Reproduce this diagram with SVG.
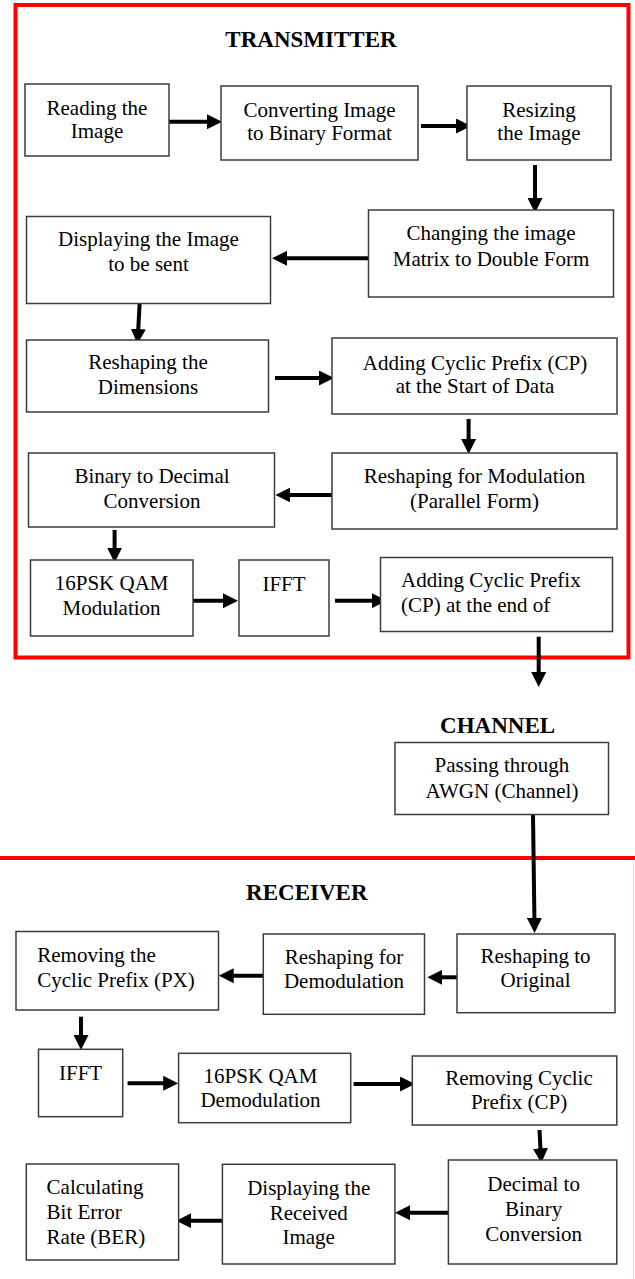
<svg xmlns="http://www.w3.org/2000/svg" width="635" height="1279" viewBox="0 0 635 1279">
<style>
.box{fill:#fff;stroke:#3c3c3c;stroke-width:1.5}
.t{font-family:"Liberation Serif","Times New Roman",serif;font-size:21px;fill:#000;text-anchor:middle}
.tl{text-anchor:start}
.h{font-family:"Liberation Serif","Times New Roman",serif;font-size:23px;font-weight:bold;fill:#000;text-anchor:middle}
.c{fill:none;stroke:#000;stroke-width:4;marker-end:url(#ah)}
.red{fill:none;stroke:#ff0000;stroke-width:4}
</style>
<defs>
<marker id="ah" markerUnits="userSpaceOnUse" markerWidth="15" markerHeight="15" refX="7" refY="7.5" orient="auto">
<path d="M0,0 L15,7.5 L0,15 Z" fill="#000"/>
</marker>
</defs>
<rect width="635" height="1279" fill="#fff"/>
<g id="frames">
<rect class="red" x="15.5" y="5" width="613" height="652.5"/>
<line class="red" x1="0" y1="858" x2="635" y2="858"/>
<line x1="633.5" y1="860" x2="633.5" y2="1279" stroke="#fbd6d6" stroke-width="1.5"/>
</g>
<g id="titles">
<text class="h" x="311" y="47">TRANSMITTER</text>
<text class="h" x="497.6" y="733">CHANNEL</text>
<text class="h" x="306.8" y="900">RECEIVER</text>
</g>
<g id="connectors">
<path class="c" d="M169 121.7 L214 121.7"/>
<path class="c" d="M421 126 L463 126"/>
<path class="c" d="M535 165 L535 205"/>
<path class="c" d="M368.6 258.3 L280 258.3"/>
<path class="c" d="M139.7 302 L137.9 336"/>
<path class="c" d="M275 378 L326 378"/>
<path class="c" d="M468.6 419 L468.6 446"/>
<path class="c" d="M336 495 L283.4 495"/>
<path class="c" d="M114.6 530 L114.6 554.7"/>
<path class="c" d="M192.8 600.7 L230 600.7"/>
<path class="c" d="M335 600.7 L378.8 600.7"/>
<path class="c" d="M538.7 636.7 L538.7 679"/>
<path class="c" d="M533 814.5 L534.5 925"/>
<path class="c" d="M458.5 977.3 L435.3 977.3"/>
<path class="c" d="M263.3 975.7 L226.7 975.7"/>
<path class="c" d="M81 1016.7 L81 1042"/>
<path class="c" d="M127.6 1083.3 L170.2 1083.3"/>
<path class="c" d="M353.6 1084 L407 1084"/>
<path class="c" d="M539.5 1130 L540.8 1155.3"/>
<path class="c" d="M452.8 1212.7 L403 1212.7"/>
<path class="c" d="M222.4 1220.7 L184.2 1220.7"/>
</g>
<g id="reading"><rect class="box" x="25" y="84" width="144" height="72"/><text class="t" x="97" y="115">Reading the</text><text class="t" x="97" y="138">Image</text></g>
<g id="converting"><rect class="box" x="221" y="86" width="197" height="74"/><text class="t" x="319.5" y="117">Converting Image</text><text class="t" x="319.5" y="140">to Binary Format</text></g>
<g id="resizing"><rect class="box" x="467" y="86" width="144" height="74"/><text class="t" x="539" y="117">Resizing</text><text class="t" x="539" y="140">the Image</text></g>
<g id="changing"><rect class="box" x="368.5" y="210" width="245" height="87"/><text class="t" x="491" y="240">Changing the image</text><text class="t" x="491" y="266">Matrix to Double Form</text></g>
<g id="displaying"><rect class="box" x="26.5" y="216.5" width="244" height="87"/><text class="t" x="148.5" y="246">Displaying the Image</text><text class="t" x="148.5" y="271">to be sent</text></g>
<g id="reshaping-dim"><rect class="box" x="26.5" y="340" width="242" height="72"/><text class="t" x="148" y="369">Reshaping the</text><text class="t" x="148" y="394">Dimensions</text></g>
<g id="adding-cp-start"><rect class="box" x="332" y="338" width="285" height="76"/><text class="t" x="475" y="370">Adding Cyclic Prefix (CP)</text><text class="t" x="475" y="393">at the Start of Data</text></g>
<g id="reshaping-mod"><rect class="box" x="332" y="453" width="285" height="76"/><text class="t" x="474.5" y="483">Reshaping for Modulation</text><text class="t" x="474.5" y="508">(Parallel Form)</text></g>
<g id="bin-dec"><rect class="box" x="28.5" y="453" width="246" height="74"/><text class="t" x="152" y="483">Binary to Decimal</text><text class="t" x="152" y="508">Conversion</text></g>
<g id="qam-mod"><rect class="box" x="30.5" y="560" width="162.5" height="76"/><text class="t" x="111.6" y="590">16PSK QAM</text><text class="t" x="111.6" y="615">Modulation</text></g>
<g id="ifft-tx"><rect class="box" x="239" y="560" width="90" height="76"/><text class="t" x="284" y="591">IFFT</text></g>
<g id="adding-cp-end"><rect class="box" x="380.5" y="557.5" width="232" height="74"/><text class="t tl" x="401" y="587">Adding Cyclic Prefix</text><text class="t tl" x="401" y="612">(CP) at the end of</text></g>
<g id="awgn"><rect class="box" x="395" y="742.5" width="213.5" height="72"/><text class="t" x="502" y="772">Passing through</text><text class="t" x="502" y="798">AWGN (Channel)</text></g>
<g id="removing-px"><rect class="box" x="16" y="931.5" width="202.5" height="78.5"/><text class="t tl" x="37.3" y="962">Removing the</text><text class="t tl" x="37.3" y="987">Cyclic Prefix (PX)</text></g>
<g id="reshaping-demod"><rect class="box" x="263.3" y="934" width="161.2" height="80.3"/><text class="t" x="344" y="964">Reshaping for</text><text class="t" x="344" y="988">Demodulation</text></g>
<g id="reshaping-orig"><rect class="box" x="457" y="934" width="158" height="78.7"/><text class="t" x="535.5" y="963">Reshaping to</text><text class="t" x="535.5" y="987">Original</text></g>
<g id="ifft-rx"><rect class="box" x="38.5" y="1049.3" width="84.2" height="67.4"/><text class="t" x="80.6" y="1080">IFFT</text></g>
<g id="qam-demod"><rect class="box" x="178.6" y="1053.3" width="172.1" height="69.4"/><text class="t" x="260.5" y="1083">16PSK QAM</text><text class="t" x="260.5" y="1107">Demodulation</text></g>
<g id="removing-cp"><rect class="box" x="412.3" y="1056" width="204.5" height="69"/><text class="t" x="519" y="1085">Removing Cyclic</text><text class="t" x="519" y="1109">Prefix (CP)</text></g>
<g id="dec-bin"><rect class="box" x="448.4" y="1160" width="168.4" height="104"/><text class="t" x="533.6" y="1191">Decimal to</text><text class="t" x="533.6" y="1216">Binary</text><text class="t" x="533.6" y="1241">Conversion</text></g>
<g id="display-rx"><rect class="box" x="222.4" y="1164.3" width="172.5" height="99.7"/><text class="t" x="308.7" y="1195">Displaying the</text><text class="t" x="308.7" y="1219.5">Received</text><text class="t" x="308.7" y="1244">Image</text></g>
<g id="ber"><rect class="box" x="26.3" y="1164" width="152.3" height="96"/><text class="t tl" x="46.6" y="1194">Calculating</text><text class="t tl" x="46.6" y="1219">Bit Error</text><text class="t tl" x="46.6" y="1244">Rate (BER)</text></g>
</svg>
